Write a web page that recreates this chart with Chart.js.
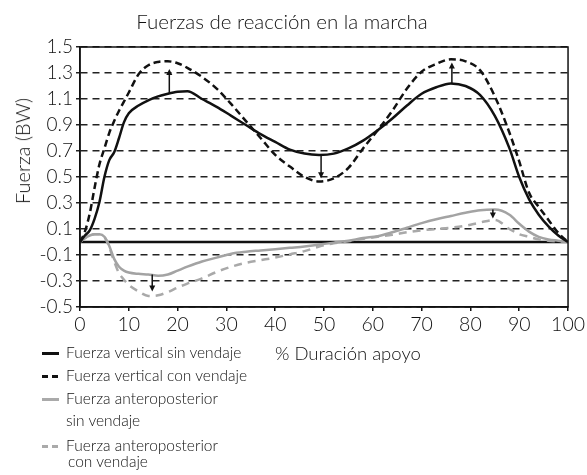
<!DOCTYPE html>
<html>
<head>
<meta charset="utf-8">
<script src="https://cdn.jsdelivr.net/npm/chart.js@4.4.1/dist/chart.umd.min.js"></script>
<style>
  body { margin: 0; background: #fff; font-family: 'Lato', sans-serif; font-weight: 300; color: #111; }
  #wrap { position: relative; width: 587px; height: 475px; }
  #chart { position: absolute; left: 0; top: 0; }
  .txt { position: absolute; white-space: nowrap; line-height: 1; }
  #title { left: 0; width: 564px; top: 11px; text-align: center; font-size: 20.5px; }
  #ytitle { left: 22px; top: 151px; font-size: 20px; transform: translate(-50%, -50%) rotate(-90deg); }
  #xtitle { left: 275px; top: 344px; font-size: 18.5px; }
  .leg { position: absolute; left: 42px; font-size: 15.5px; line-height: 1; white-space: nowrap; }
  .sw { display: inline-block; width: 17px; height: 3px; vertical-align: middle; margin-right: 7px; position: relative; top: -1px; }
  .solid-k { background: #111; }
  .dash-k { background: repeating-linear-gradient(90deg, #111 0 6px, transparent 6px 10px); }
  .solid-g { background: #aaa; }
  .dash-g { background: repeating-linear-gradient(90deg, #aaa 0 6px, transparent 6px 10px); }
  .ind { padding-left: 24px; }
</style>
</head>
<body>
<div id="wrap">
  <canvas id="chart" width="587" height="475"></canvas>
  <div class="txt" id="title">Fuerzas de reacción en la marcha</div>
  <div class="txt" id="ytitle">Fuerza (BW)</div>
  <div class="txt" id="xtitle">% Duración apoyo</div>
  <div class="leg" style="top:345px"><span class="sw solid-k"></span>Fuerza vertical sin vendaje</div>
  <div class="leg" style="top:368px"><span class="sw dash-k"></span>Fuerza vertical con vendaje</div>
  <div class="leg" style="top:391px"><span class="sw solid-g"></span>Fuerza anteroposterior</div>
  <div class="leg ind" style="top:413px">sin vendaje</div>
  <div class="leg" style="top:438px"><span class="sw dash-g"></span>Fuerza anteroposterior</div>
  <div class="leg ind" style="top:454px; padding-left:26px">con vendaje</div>
</div>
<script>
const pct = [0, 1, 2, 3, 4, 5, 6, 7, 8, 9, 10, 12, 14, 16, 18, 20, 22, 25, 28, 31, 34, 37, 40, 43, 46, 49, 52, 55, 58, 61, 64, 67, 70, 73, 76, 79, 82, 85, 88, 90, 92, 94, 96, 98, 100];

const vertSin = [0, 0.05, 0.09, 0.18, 0.31, 0.50, 0.63, 0.69, 0.80, 0.92, 0.99, 1.05, 1.09, 1.12, 1.14, 1.155, 1.16, 1.10, 1.04, 0.97, 0.90, 0.83, 0.77, 0.71, 0.68, 0.67, 0.68, 0.72, 0.78, 0.86, 0.95, 1.05, 1.14, 1.19, 1.22, 1.20, 1.13, 0.97, 0.72, 0.50, 0.33, 0.21, 0.12, 0.05, 0];
const vertCon = [0, 0.08, 0.22, 0.42, 0.60, 0.72, 0.84, 0.93, 1.01, 1.08, 1.15, 1.29, 1.36, 1.385, 1.39, 1.375, 1.34, 1.27, 1.18, 1.06, 0.93, 0.80, 0.67, 0.58, 0.50, 0.465, 0.49, 0.57, 0.72, 0.86, 1.01, 1.18, 1.31, 1.37, 1.405, 1.39, 1.32, 1.12, 0.84, 0.62, 0.38, 0.27, 0.17, 0.07, 0];
const apSin = [0, 0.03, 0.05, 0.06, 0.06, 0.04, -0.03, -0.13, -0.19, -0.22, -0.235, -0.245, -0.25, -0.26, -0.25, -0.22, -0.19, -0.15, -0.12, -0.09, -0.075, -0.065, -0.055, -0.045, -0.035, -0.02, -0.005, 0.01, 0.03, 0.045, 0.075, 0.11, 0.145, 0.175, 0.20, 0.225, 0.245, 0.25, 0.21, 0.14, 0.08, 0.04, 0.02, 0.01, 0];
const apCon = [0, 0.03, 0.05, 0.06, 0.06, 0.04, -0.04, -0.15, -0.24, -0.29, -0.33, -0.38, -0.415, -0.41, -0.385, -0.35, -0.32, -0.28, -0.23, -0.19, -0.16, -0.14, -0.12, -0.095, -0.07, -0.035, -0.01, 0.005, 0.025, 0.04, 0.055, 0.075, 0.09, 0.10, 0.11, 0.125, 0.15, 0.17, 0.10, 0.06, 0.04, 0.02, 0.01, 0.005, 0];

const yTicks = [-0.5, -0.3, -0.1, 0.1, 0.3, 0.5, 0.7, 0.9, 1.1, 1.3, 1.5];
const xTicks = [0, 10, 20, 30, 40, 50, 60, 70, 80, 90, 100];

// arrows from "sin vendaje" to "con vendaje"
const arrowX = [18.3, 49.4, 76.2, 14.8, 84.6];
const arrowFrom = [1.14, 0.67, 1.22, -0.25, 0.25];
const arrowTo = [1.33, 0.49, 1.38, -0.38, 0.18];

function toPoints(ys) {
  return pct.map((x, i) => ({ x: x, y: ys[i] }));
}

const arrowPlugin = {
  id: 'arrows',
  afterDatasetsDraw(chart) {
    const ctx = chart.ctx;
    const xs = chart.scales.x, ys = chart.scales.y;
    ctx.save();
    ctx.strokeStyle = '#111';
    ctx.fillStyle = '#111';
    ctx.lineWidth = 1.5;
    arrowX.forEach((v, i) => {
      const px = xs.getPixelForValue(v);
      const y0 = ys.getPixelForValue(arrowFrom[i]);
      const y1 = ys.getPixelForValue(arrowTo[i]);
      const dir = y1 < y0 ? 1 : -1;
      ctx.beginPath();
      ctx.moveTo(px, y0);
      ctx.lineTo(px, y1 + dir * 4);
      ctx.stroke();
      ctx.beginPath();
      ctx.moveTo(px, y1);
      ctx.lineTo(px - 3, y1 + dir * 6);
      ctx.lineTo(px + 3, y1 + dir * 6);
      ctx.closePath();
      ctx.fill();
    });
    ctx.restore();
  },
  afterDraw(chart) {
    const a = chart.chartArea;
    const ctx = chart.ctx;
    ctx.save();
    ctx.strokeStyle = '#111';
    ctx.lineWidth = 1.5;
    ctx.strokeRect(a.left, a.top, a.right - a.left, a.bottom - a.top);
    ctx.restore();
  }
};

const line = (data, color, dash, order) => ({
  data: toPoints(data),
  borderColor: color,
  borderWidth: 2.5,
  borderDash: dash,
  pointRadius: 0,
  fill: false,
  cubicInterpolationMode: 'monotone',
  order: order
});

new Chart(document.getElementById('chart'), {
  type: 'line',
  data: {
    datasets: [
      line(vertSin, '#111', [], 1),
      line(vertCon, '#111', [7, 4], 2),
      line(apSin, '#a3a3a3', [], 3),
      line(apCon, '#a9a9a9', [8, 6], 4),
      {
        data: [{ x: 0, y: 0 }, { x: 100, y: 0 }],
        borderColor: '#111',
        borderWidth: 2.5,
        pointRadius: 0,
        order: 10
      }
    ]
  },
  plugins: [arrowPlugin],
  options: {
    responsive: false,
    animation: false,
    layout: { padding: { left: 0, top: 47, right: 15, bottom: 128 } },
    plugins: {
      legend: { display: false },
      tooltip: { enabled: false }
    },
    scales: {
      x: {
        type: 'linear',
        min: 0,
        max: 100,
        afterBuildTicks: (scale) => { scale.ticks = xTicks.map(v => ({ value: v })); },
        afterFit: (scale) => { scale.height = 40; },
        grid: { drawOnChartArea: false, tickLength: 4, color: '#111', lineWidth: 1.5 },
        border: { color: '#111', width: 1.5 },
        ticks: { color: '#111', font: { family: 'Lato', size: 19.5, weight: '300' }, padding: 2, maxRotation: 0 }
      },
      y: {
        min: -0.5,
        max: 1.5,
        afterBuildTicks: (scale) => { scale.ticks = yTicks.map(v => ({ value: v })); },
        afterFit: (scale) => { scale.width = 80; },
        grid: { color: '#222', lineWidth: 1.5, tickLength: 4 },
        border: { color: '#111', width: 1.5, dash: [7, 5] },
        ticks: {
          color: '#111',
          font: { family: 'Lato', size: 19, weight: '300' },
          padding: 3,
          callback: (v) => v.toFixed(1)
        }
      }
    }
  }
});
</script>
</body>
</html>
